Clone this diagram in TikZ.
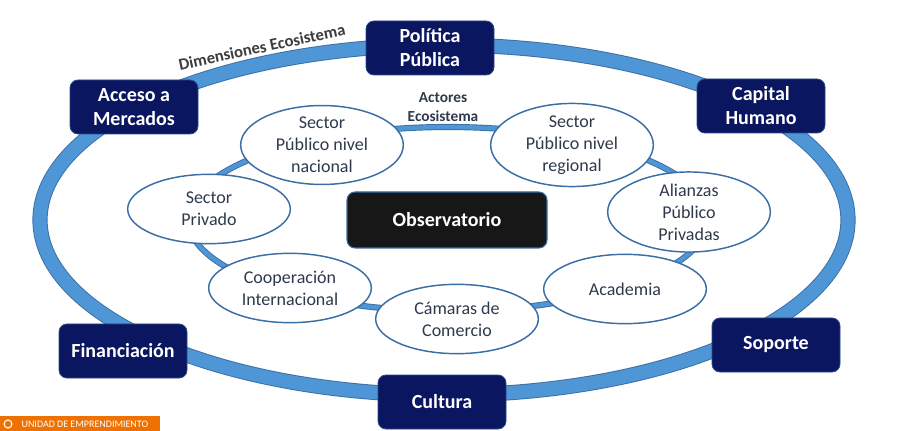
\documentclass[tikz,border=0pt]{standalone}
\usepackage{fontspec}
\setmainfont{Carlito}
\usetikzlibrary{shapes.geometric}
\definecolor{navy}{HTML}{0B1660}
\definecolor{navyedge}{HTML}{2C4A86}
\definecolor{ringblue}{HTML}{4F96D6}
\definecolor{ringedge}{HTML}{3A6EA5}
\definecolor{actedge}{HTML}{3A6EA5}
\definecolor{acttext}{HTML}{2E3A4C}
\definecolor{labgray}{HTML}{3C3C3C}
\definecolor{unidad}{HTML}{EE7203}

\begin{document}
\begin{tikzpicture}[x=0.75pt,y=-0.75pt,
    dim/.style={draw=navyedge, fill=navy, rounded corners=6pt, line width=0.6pt,
        text=white, font=\bfseries\fontsize{15}{18}\selectfont, align=center,
        minimum width=96pt, minimum height=40.5pt, inner sep=2pt},
    act/.style={ellipse, draw=actedge, fill=white, line width=1.1pt,
        text=acttext, font=\fontsize{13.5}{16.5}\selectfont, align=center,
        minimum width=122pt, minimum height=52pt, inner sep=0pt},
    obs/.style={draw=ringedge, fill=black!91, rounded corners=6pt, line width=0.8pt,
        text=white, font=\bfseries\fontsize{15}{18}\selectfont,
        minimum width=150pt, minimum height=42pt},
    ring/.style={line width=#1}]
    \useasboundingbox (0,0) rectangle (922,431);

    \draw [ringedge, ring=11.4pt] (444,220) ellipse [x radius=404, y radius=175];
    \draw [ringblue, ring=10pt] (444,220) ellipse [x radius=404, y radius=175];
    \draw [ringedge, ring=4.6pt] (448,219) ellipse [x radius=260, y radius=92];
    \draw [ringblue, ring=3.2pt] (448,219) ellipse [x radius=260, y radius=92];

    \path (262,47) node [rotate=12, text=labgray, font=\bfseries\fontsize{12.5}{14}\selectfont] (de) {Dimensiones Ecosistema};
    \path (443,107) node [text=acttext, align=center, font=\bfseries\fontsize{11.5}{14}\selectfont] (ae) {Actores\\Ecosistema};

    \path (322,145) node [act] (snac) {Sector\\Público nivel\\nacional};
    \path (572,145) node [act] (sreg) {Sector\\Público nivel\\regional};
    \path (209,209) node [act] (spr) {Sector\\Privado};
    \path (689,212) node [act] (ap) {Alianzas\\Público\\Privadas};
    \path (290,288) node [act] (ci) {Cooperación\\Internacional};
    \path (457,319) node [act] (cc) {Cámaras de\\Comercio};
    \path (625,289) node [act] (ac) {Academia};

    \path (447,220) node [obs] (ob) {Observatorio};

    \path (430,48) node [dim] (pp) {Política\\Pública};
    \path (134,107) node [dim] (am) {Acceso a\\Mercados};
    \path (761,106) node [dim] (ch) {Capital\\Humano};
    \path (123,351) node [dim] (fi) {Financiación};
    \path (776,345) node [dim] (so) {Soporte};
    \path (442,402) node [dim] (cu) {Cultura};

    \fill [unidad] (0,416) rectangle (160,431);
    \draw [white, line width=0.8pt] (8,424) circle [radius=4];
    \path (20,424) node [anchor=west, text=white, inner sep=1pt, font=\fontsize{7.5}{8}\selectfont] (ue) {UNIDAD DE EMPRENDIMIENTO};
\end{tikzpicture}
\end{document}
